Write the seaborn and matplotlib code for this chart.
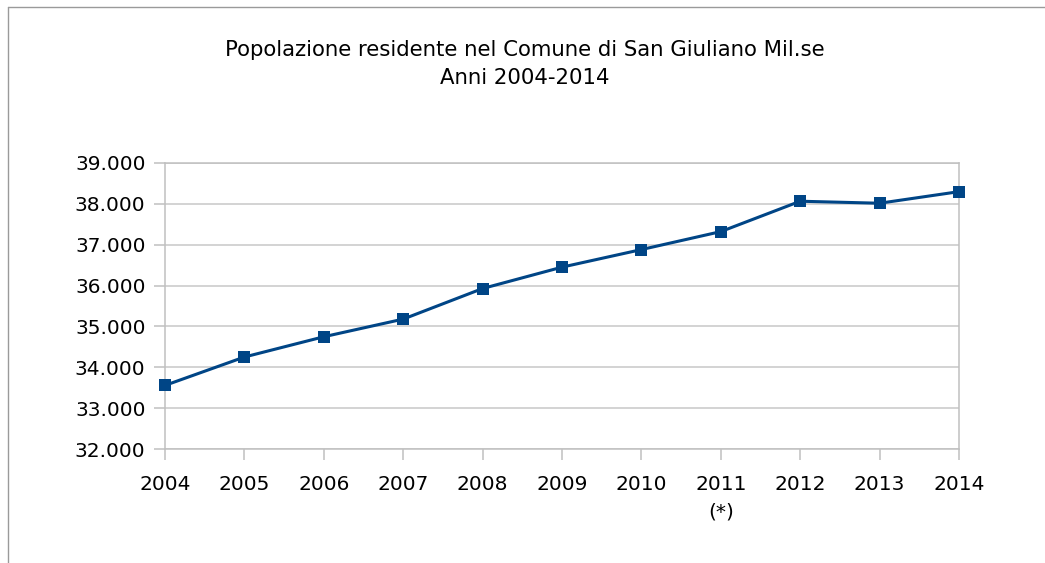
import matplotlib
matplotlib.use("Agg")
import matplotlib.pyplot as plt
from matplotlib.lines import Line2D
import seaborn as sns
import pandas as pd

years = [2004, 2005, 2006, 2007, 2008, 2009, 2010, 2011, 2012, 2013, 2014]
population = [33561, 34254, 34749, 35180, 35927, 36449, 36878, 37317, 38059, 38010, 38293]
x_labels = ["2004", "2005", "2006", "2007", "2008", "2009", "2010", "2011\n(*)", "2012", "2013", "2014"]
y_ticks = [32000, 33000, 34000, 35000, 36000, 37000, 38000, 39000]
y_labels = ["32.000", "33.000", "34.000", "35.000", "36.000", "37.000", "38.000", "39.000"]
title_lines = ["Popolazione residente nel Comune di San Giuliano Mil.se", "Anni 2004-2014"]

sns.set_theme(style="white")
plt.rcParams['font.family'] = ['DejaVu Sans']

df = pd.DataFrame({"anno": years, "popolazione": population})

fig = plt.figure(figsize=(10.45, 5.63), dpi=100)
ax = fig.add_axes([165/1045, 1 - 449.3/563, (959 - 165)/1045, (449.3 - 162.7)/563])

sns.lineplot(data=df, x="anno", y="popolazione", ax=ax, color="#004586",
             linewidth=2.2, marker="s", markersize=8.5, markeredgewidth=0,
             zorder=3)
for ln in ax.lines:
    ln.set_clip_on(False)

ax.set_xlim(2004, 2014)
ax.set_ylim(32000, 39000)
ax.set_xticks(years)
ax.set_xticklabels(x_labels, fontsize=14.5)
ax.set_yticks(y_ticks)
ax.set_yticklabels(y_labels, fontsize=14.5)
ax.set_xlabel("")
ax.set_ylabel("")
ax.yaxis.grid(True, color="#c8c8c8", linewidth=1.1)
ax.xaxis.grid(False)
for s in ax.spines.values():
    s.set_color("#c0c0c0")
    s.set_linewidth(1.1)
ax.tick_params(axis="both", which="major", length=8, width=1.1, color="#c0c0c0",
               labelcolor="black", bottom=True, left=True)
ax.tick_params(axis="x", pad=10.5)
ax.tick_params(axis="y", pad=6)
for lbl in ax.get_xticklabels():
    lbl.set_verticalalignment("top")
    lbl.set_linespacing(1.55)

fig.text(0.502, 1 - 50/563, title_lines[0], ha="center", va="center", fontsize=15.3, color="black")
fig.text(0.502, 1 - 78/563, title_lines[1], ha="center", va="center", fontsize=15.3, color="black")

# outer frame lines (left and top)
fig.add_artist(Line2D([8/1045, 8/1045], [0, 1 - 7/563], transform=fig.transFigure, color="#9a9a9a", linewidth=1))
fig.add_artist(Line2D([8/1045, 1], [1 - 7/563, 1 - 7/563], transform=fig.transFigure, color="#9a9a9a", linewidth=1))

fig.savefig("out.png", dpi=100, facecolor="white")
